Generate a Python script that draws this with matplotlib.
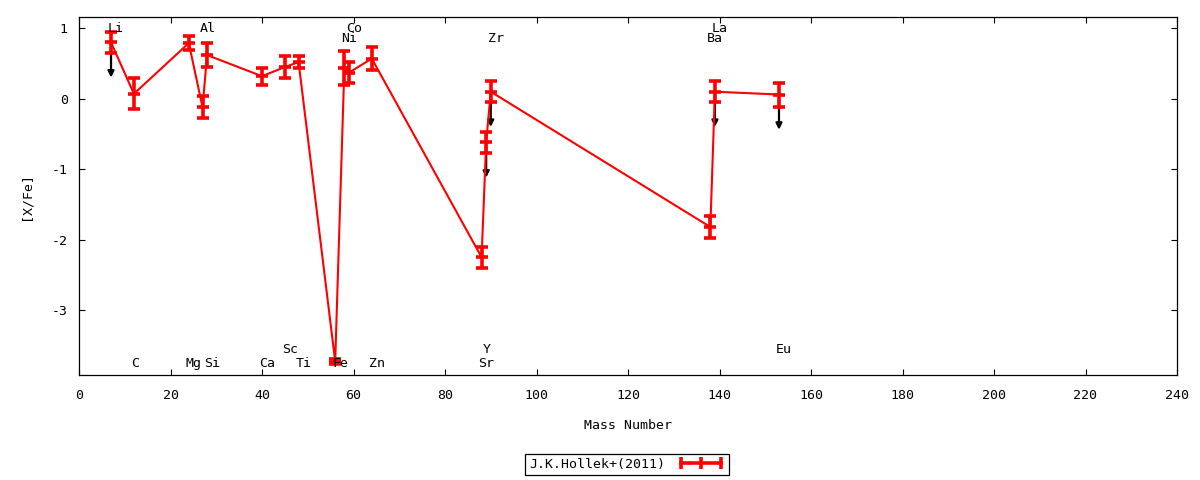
import matplotlib
matplotlib.use('Agg')
import matplotlib.pyplot as plt
from matplotlib.lines import Line2D

# ---- data ----
elements = ['Li', 'C', 'Mg', 'Al', 'Si', 'Ca', 'Sc', 'Ti', 'Fe', 'Ni', 'Co', 'Zn',
            'Sr', 'Y', 'Zr', 'Ba', 'La', 'Eu']
mass_number = [7, 12, 24, 27, 28, 40, 45, 48, 56, 58, 59, 64, 88, 89, 90, 138, 139, 153]
x_over_fe = [0.80, 0.07, 0.79, -0.12, 0.62, 0.32, 0.45, 0.52, -3.73, 0.44, 0.37, 0.57,
             -2.25, -0.62, 0.10, -1.82, 0.10, 0.06]
x_over_fe_err = [0.15, 0.22, 0.10, 0.16, 0.17, 0.12, 0.15, 0.09, 0.03, 0.24, 0.15, 0.165,
                 0.15, 0.15, 0.15, 0.16, 0.15, 0.17]
upper_limit = [True, False, False, False, False, False, False, False, False, False, False,
               False, False, True, True, False, True, True]
series_label = 'J.K.Hollek+(2011)'
x_ticks = [0, 20, 40, 60, 80, 100, 120, 140, 160, 180, 200, 220, 240]
y_ticks = [1, 0, -1, -2, -3]

# label placement rows (layout only)
label_row = ['top', 'bot', 'bot', 'top', 'bot', 'bot', 'bot2', 'bot', 'bot', 'top2', 'top',
             'bot', 'bot', 'bot2', 'top2', 'top2', 'top', 'bot2']
row_y = {'top': 1.0, 'top2': 0.85, 'bot': -3.76, 'bot2': -3.56}

FONT = 'DejaVu Sans Mono'
FS = 9.5
plt.rcParams['font.family'] = [FONT, 'DejaVu Sans']
plt.rcParams['font.size'] = FS
plt.rcParams['axes.unicode_minus'] = False

fig = plt.figure(figsize=(12, 4.8), dpi=100)
ax = fig.add_axes([79 / 1200, 1 - 375 / 480, (1177 - 79) / 1200, (375 - 17) / 480])

# upper-limit arrows
for m, v, ul in zip(mass_number, x_over_fe, upper_limit):
    if ul:
        ax.annotate('', xy=(m, v - 0.5), xytext=(m, v),
                    arrowprops=dict(arrowstyle='-|>', color='black', lw=1.6,
                                    shrinkA=0, shrinkB=0, mutation_scale=9),
                    zorder=1)

ax.errorbar(mass_number, x_over_fe, yerr=x_over_fe_err, fmt='-', color='#ff0000',
            lw=1.5, elinewidth=2.6, capsize=4, capthick=2.6,
            marker='_', ms=8, mew=2.6, zorder=2)

for el, m, row in zip(elements, mass_number, label_row):
    ax.annotate(el, xy=(m, row_y[row]), xytext=(-3, 0), textcoords='offset pixels',
                ha='left', va='center', fontsize=FS, color='black', zorder=3)

ax.set_xlim(0, 240)
ax.set_ylim(-3.92, 1.16)
ax.set_xticks(x_ticks)
ax.set_yticks(y_ticks)
ax.tick_params(direction='in', length=4.5, width=0.8, top=True, right=True,
               labelsize=FS)
ax.tick_params(axis='x', pad=10)
ax.tick_params(axis='y', pad=8)
for s in ax.spines.values():
    s.set_linewidth(0.9)
ax.set_xlabel('Mass Number', fontsize=FS, labelpad=12)
ax.set_ylabel('[X/Fe]', fontsize=FS, labelpad=14)

handle = Line2D([], [], color='#ff0000', lw=2.6, marker='|', ms=8, mew=2.6)
leg = fig.legend([handle], [series_label], loc='center',
                 bbox_to_anchor=(627 / 1200, 1 - 464.5 / 480),
                 numpoints=3, markerfirst=False, handlelength=3.6,
                 handletextpad=0.9, borderpad=0.3, fancybox=False,
                 edgecolor='black', framealpha=1, fontsize=FS)
leg.get_frame().set_linewidth(0.9)

fig.savefig('out.png', dpi=100)
